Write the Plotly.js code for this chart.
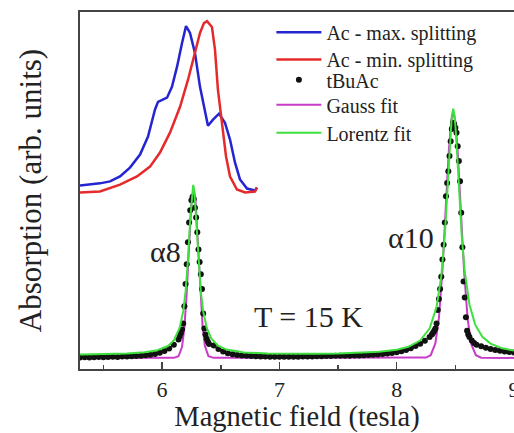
<!DOCTYPE html>
<html>
<head>
<meta charset="utf-8">
<script src="https://cdn.plot.ly/plotly-3.0.1.min.js"></script>
<style>html,body{margin:0;padding:0;background:#fff;}#chart{width:514px;height:433px;}</style>
</head>
<body>
<div id="chart"></div>
<script>
// Inset spectra (Ac)
const fieldAcMax = [5.300,5.470,5.556,5.641,5.726,5.812,5.880,5.939,5.965,6.042,6.084,6.127,6.170,6.204,6.238,6.280,6.323,6.366,6.391,6.434,6.485,6.536,6.579,6.621,6.664,6.724,6.792,6.809];
const absAcMax   = [0.700,0.709,0.717,0.737,0.773,0.826,0.899,1.008,1.040,1.057,1.101,1.182,1.279,1.348,1.320,1.239,1.101,0.996,0.943,0.968,0.992,0.955,0.887,0.794,0.725,0.688,0.680,0.692];
const fieldAcMin = [5.300,5.470,5.641,5.786,5.897,5.982,6.067,6.153,6.221,6.280,6.323,6.357,6.383,6.425,6.451,6.476,6.511,6.545,6.579,6.638,6.707,6.792,6.809];
const absAcMin   = [0.672,0.676,0.704,0.737,0.777,0.834,0.915,1.020,1.130,1.239,1.320,1.360,1.368,1.344,1.251,1.089,0.939,0.818,0.737,0.684,0.672,0.676,0.692];

// tBuAc measured points
const fieldTBuAc = [5.30,5.34,5.38,5.42,5.46,5.50,5.54,5.58,5.62,5.66,5.70,5.74,5.78,5.82,5.86,5.90,5.94,5.98,6.02,6.06,6.10,
  6.14,6.15,6.16,6.17,6.18,6.19,6.20,6.21,6.22,6.23,6.24,6.25,6.26,6.27,6.28,6.29,6.30,6.31,6.32,6.33,6.34,6.35,6.36,6.37,6.38,6.39,6.40,
  6.44,6.48,6.52,6.56,6.60,6.64,6.68,6.72,6.76,6.80,6.84,6.88,6.92,6.96,7.00,7.04,7.08,7.12,7.16,7.20,7.24,7.28,7.32,7.36,7.40,7.44,7.48,7.52,7.56,7.60,7.64,7.68,7.72,7.76,7.80,7.84,7.88,7.92,7.96,8.00,8.04,8.08,8.12,8.16,8.20,
  8.24,8.28,8.30,8.31,8.32,8.33,8.34,8.35,8.36,8.37,8.38,8.39,8.40,8.41,8.42,8.43,8.44,8.45,8.46,8.47,8.48,8.49,8.50,8.51,8.52,8.53,8.54,8.55,8.56,8.57,8.58,8.59,8.60,8.61,8.62,8.64,8.66,8.68,
  8.72,8.76,8.80,8.84,8.88,8.92,8.96,9.00];
const absTBuAc = [0.002,0.003,0.002,0.003,0.004,0.003,0.004,0.005,0.004,0.006,0.006,0.007,0.008,0.009,0.011,0.013,0.016,0.021,0.028,0.038,0.054,
  0.075,0.088,0.100,0.115,0.140,0.210,0.300,0.380,0.470,0.550,0.600,0.640,0.655,0.645,0.610,0.570,0.510,0.440,0.390,0.340,0.280,0.180,0.120,0.095,0.078,0.066,0.057,
  0.050,0.036,0.026,0.019,0.015,0.012,0.010,0.009,0.008,0.007,0.006,0.006,0.005,0.005,0.005,0.005,0.005,0.005,0.005,0.006,0.006,0.006,0.007,0.007,0.008,0.008,0.009,0.009,0.009,0.009,0.010,0.010,0.011,0.012,0.013,0.014,0.016,0.018,0.020,0.023,0.027,0.032,0.039,0.048,0.058,
  0.070,0.085,0.095,0.102,0.110,0.120,0.140,0.195,0.239,0.280,0.330,0.400,0.460,0.550,0.657,0.710,0.758,0.820,0.880,0.930,0.955,0.950,0.935,0.915,0.860,0.800,0.718,0.590,0.450,0.310,0.245,0.165,0.110,0.095,0.085,0.071,0.061,0.053,
  0.047,0.041,0.036,0.032,0.029,0.026,0.024,0.022];

// Gauss fit curve
const fieldGauss = [5.30,6.10,6.14,6.17,6.19,6.21,6.23,6.25,6.268,6.285,6.305,6.325,6.345,6.365,6.395,6.44,8.25,8.29,8.33,8.36,8.39,8.42,8.445,8.465,8.482,8.50,8.52,8.545,8.575,8.605,8.635,8.675,8.72,9.00];
const absGauss   = [0,0.0002,0.0067,0.045,0.123,0.266,0.458,0.629,0.690,0.636,0.468,0.275,0.129,0.048,0.007,0.0002,0.0014,0.011,0.060,0.163,0.356,0.626,0.846,0.965,1.000,0.961,0.838,0.616,0.348,0.158,0.057,0.011,0.001,0];

// Lorentz fit curve
const fieldLorentz = [5.30,5.50,5.70,5.85,5.95,6.05,6.10,6.15,6.18,6.20,6.22,6.24,6.255,6.265,6.275,6.29,6.31,6.33,6.35,6.38,6.42,6.48,6.55,6.70,6.90,7.10,7.30,7.50,7.70,7.85,8.00,8.10,8.20,8.28,8.34,8.38,8.41,8.435,8.455,8.47,8.482,8.495,8.51,8.53,8.555,8.58,8.62,8.67,8.73,8.80,8.90,9.00];
const absLorentz   = [0.0143,0.0155,0.018,0.0226,0.0297,0.0482,0.0709,0.1226,0.190,0.269,0.394,0.565,0.676,0.703,0.676,0.565,0.394,0.269,0.190,0.123,0.078,0.0486,0.0339,0.0225,0.0182,0.0170,0.0171,0.0182,0.0207,0.0248,0.0332,0.0450,0.0705,0.119,0.207,0.332,0.498,0.702,0.882,0.984,1.012,0.979,0.874,0.692,0.491,0.350,0.217,0.134,0.086,0.058,0.039,0.030];

const majorTicks = [6,7,8,9];
const majorLabels = ['6','7','8','9'];
const minorTicks = [5.5,6.5,7.5,8.5];

const serif = 'Liberation Serif, "Times New Roman", serif';
const ink = '#222';

function legendBox(yCenter) {
  return {x: 0.441, y: yCenter, xanchor: 'left', yanchor: 'middle', bgcolor: 'rgba(0,0,0,0)',
          font: {family: serif, size: 20, color: ink}, itemwidth: 45, borderwidth: 0};
}

const traces = [
  {x: fieldAcMax, y: absAcMax, name: 'Ac - max. splitting', type: 'scatter', mode: 'lines',
   line: {color: '#2424d2', width: 2.5}, legend: 'legend'},
  {x: fieldAcMin, y: absAcMin, name: 'Ac - min. splitting', type: 'scatter', mode: 'lines',
   line: {color: '#e42a2a', width: 2.5}, legend: 'legend2'},
  {x: fieldGauss, y: absGauss, name: 'Gauss fit', type: 'scatter', mode: 'lines',
   line: {color: '#c83cc8', width: 2}, legend: 'legend4'},
  {x: fieldTBuAc, y: absTBuAc, name: 'tBuAc', type: 'scatter', mode: 'markers',
   marker: {color: '#111', size: 6, line: {width: 0}}, legend: 'legend3'},
  {x: fieldLorentz, y: absLorentz, name: 'Lorentz fit', type: 'scatter', mode: 'lines',
   line: {color: '#3ee03e', width: 2}, legend: 'legend5'}
];

const layout = {
  width: 514, height: 433,
  margin: {l: 80, r: 0, t: 12, b: 64, pad: 0},
  paper_bgcolor: '#fff', plot_bgcolor: '#fff',
  font: {family: serif, color: ink},
  showlegend: true,
  legend: legendBox(0.943),
  legend2: legendBox(0.867),
  legend3: legendBox(0.810),
  legend4: legendBox(0.740),
  legend5: legendBox(0.6615),
  xaxis: {range: [5.3, 9.0], tickmode: 'array', tickvals: majorTicks, ticktext: majorLabels,
          ticks: 'inside', ticklen: 7, tickwidth: 1.5, tickcolor: '#444',
          minor: {tickvals: minorTicks, ticks: 'inside', ticklen: 4, tickwidth: 1.5, tickcolor: '#444'},
          showline: true, linecolor: '#444', linewidth: 2, mirror: true,
          showgrid: false, zeroline: false, ticklabeloverflow: 'allow',
          tickfont: {family: serif, size: 22, color: ink},
          title: {text: 'Magnetic field (tesla)', font: {family: serif, size: 28.5, color: ink}, standoff: 10}},
  yaxis: {range: [-0.045, 1.405], showticklabels: false, ticks: '',
          showline: true, linecolor: '#444', linewidth: 2, mirror: true,
          showgrid: false, zeroline: false,
          title: {text: 'Absorption (arb. units)', font: {family: serif, size: 31, color: ink}, standoff: 27}},
  annotations: [
    {x: 6.033, y: 0.433, xref: 'x', yref: 'y', text: 'α8', showarrow: false,
     font: {family: serif, size: 30, color: ink}},
    {x: 8.122, y: 0.49, xref: 'x', yref: 'y', text: 'α10', showarrow: false,
     font: {family: serif, size: 30, color: ink}},
    {x: 7.244, y: 0.170, xref: 'x', yref: 'y', text: 'T = 15 K', showarrow: false,
     font: {family: serif, size: 30, color: ink}}
  ]
};

Plotly.newPlot('chart', traces, layout, {displayModeBar: false, staticPlot: true});
</script>
</body>
</html>
